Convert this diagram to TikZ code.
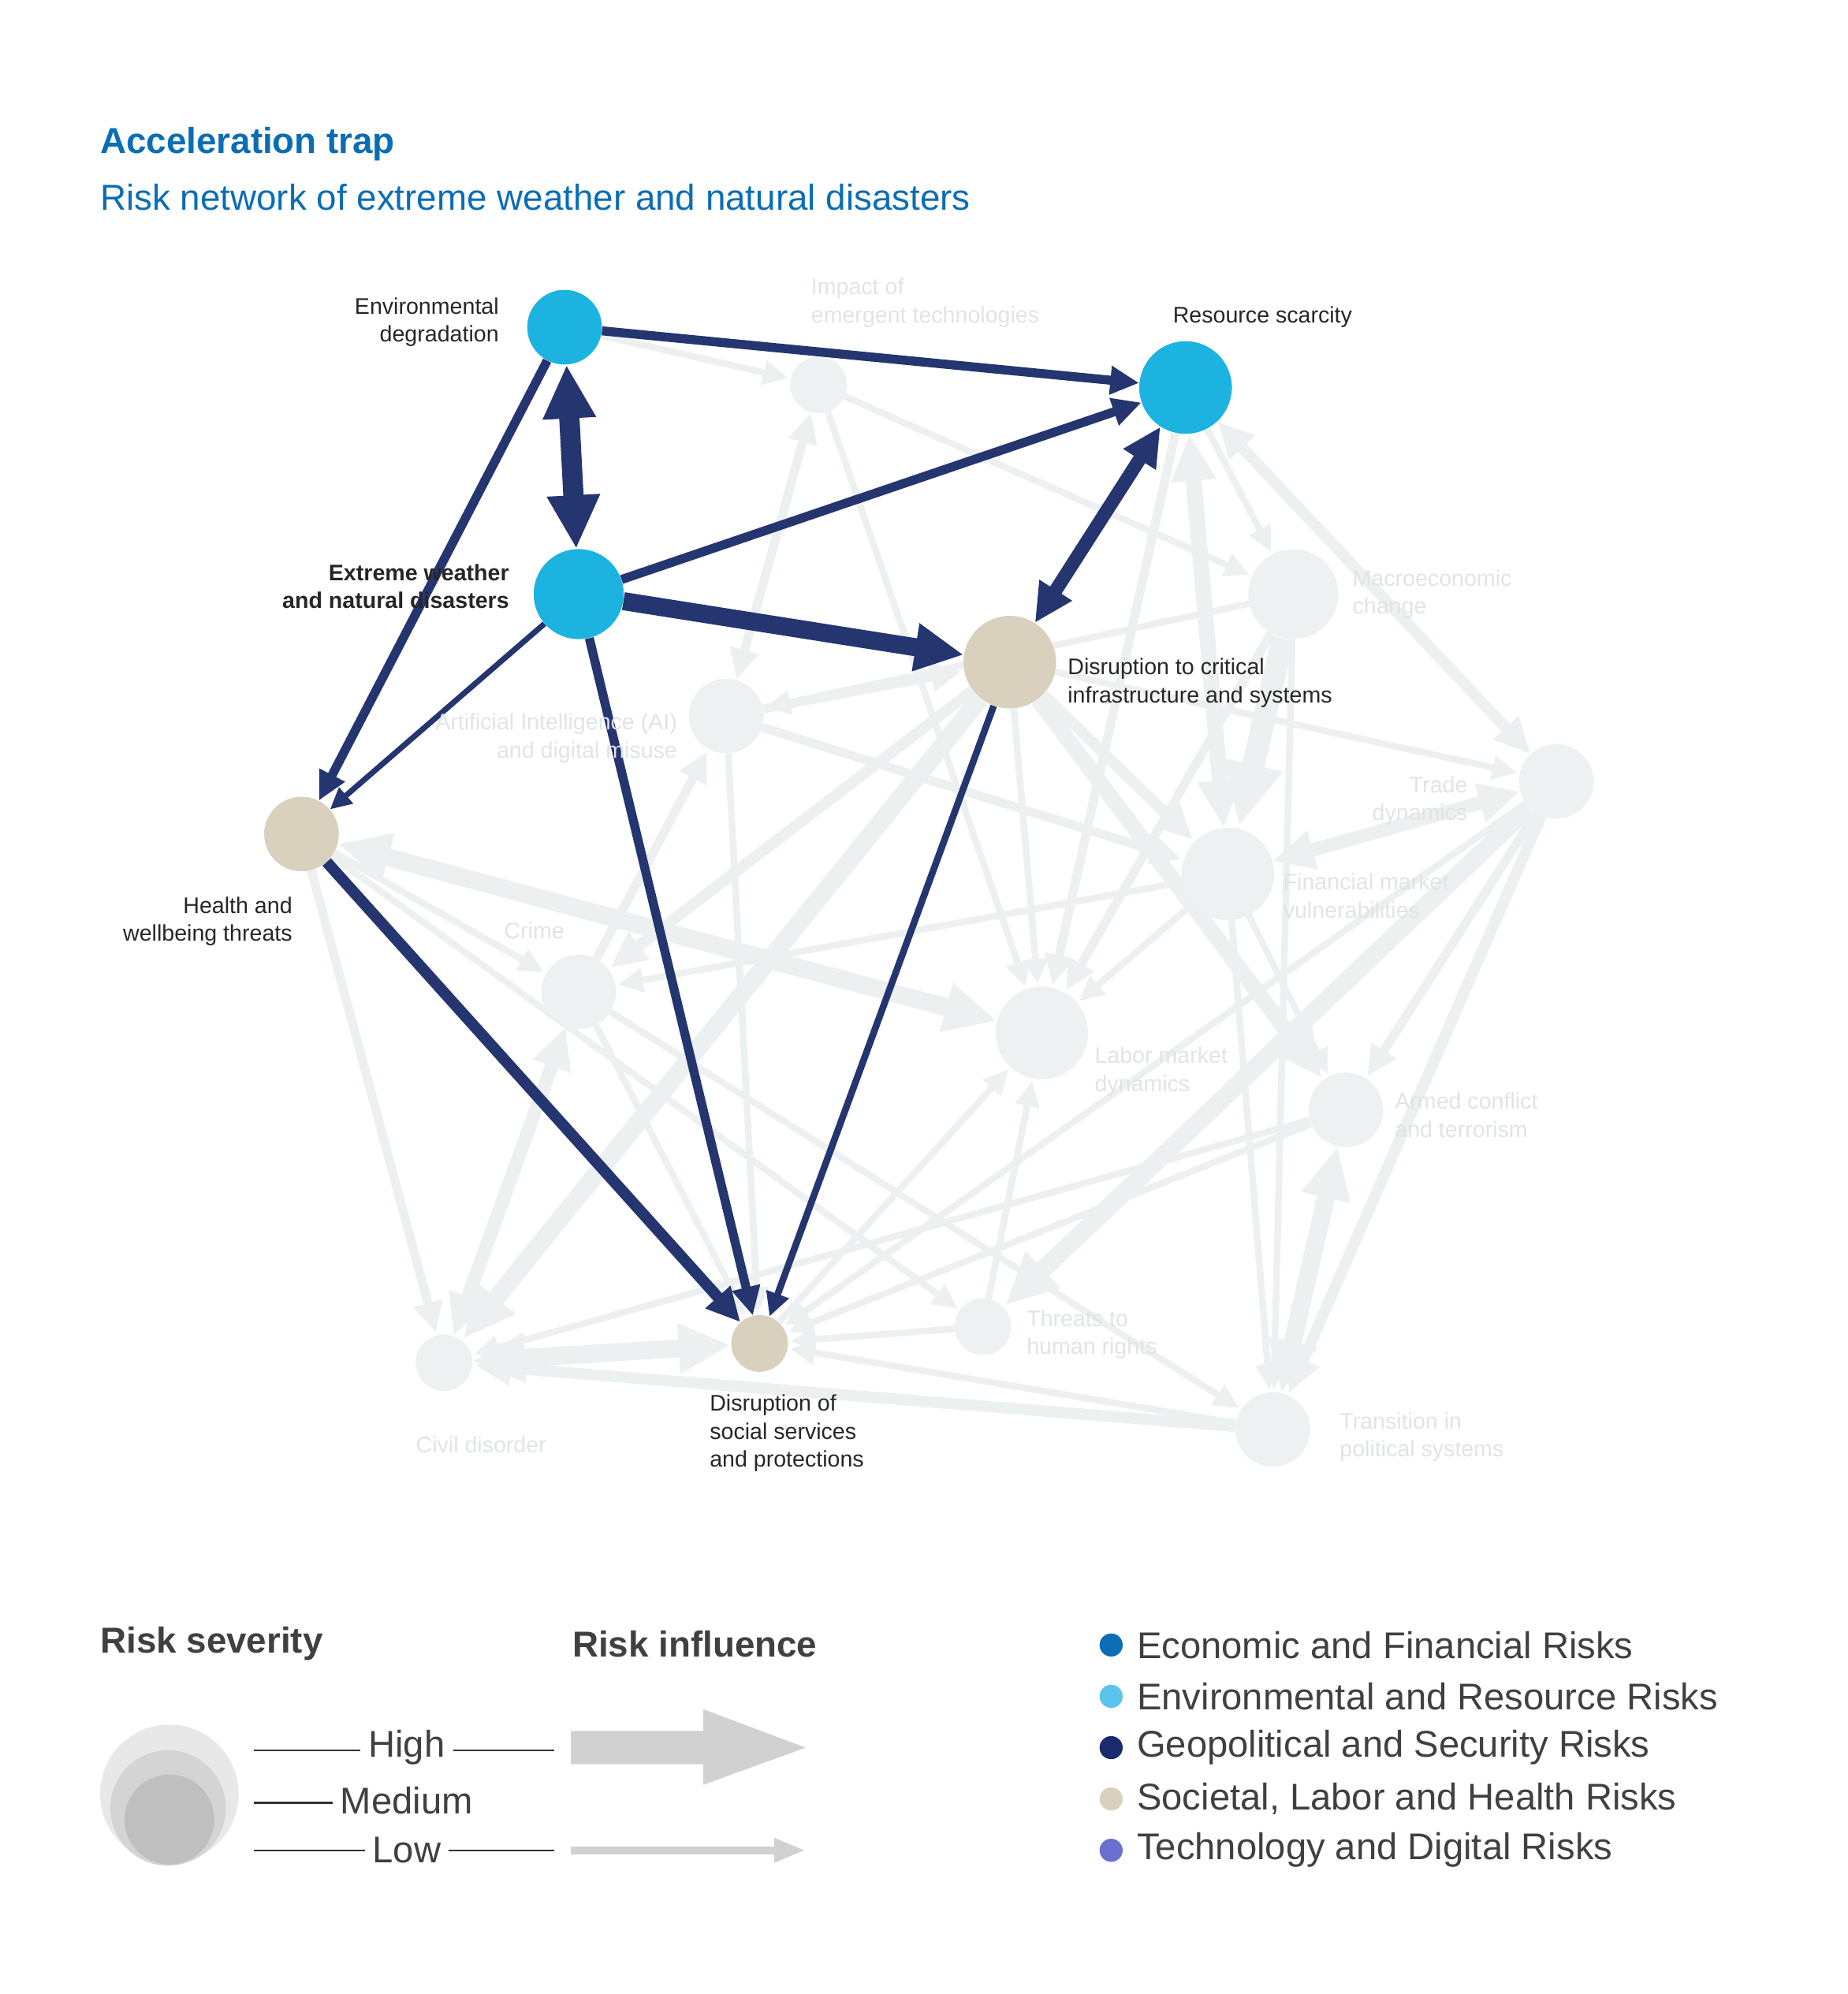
\documentclass[tikz,border=0pt]{standalone}
\usepackage{fontspec}
\setmainfont{Liberation Sans}
\usetikzlibrary{arrows.meta}
\definecolor{cyanR}{HTML}{1CB3E0}
\definecolor{beigeR}{HTML}{D9D1BD}
\definecolor{grayN}{HTML}{EEF1F2}
\definecolor{grayE}{HTML}{EDF0F1}
\definecolor{darkE}{HTML}{253570}
\definecolor{titleC}{HTML}{0A6DB5}
\definecolor{faint}{HTML}{E0E4E6}
\definecolor{lg1}{HTML}{0A6DB5}
\definecolor{lg2}{HTML}{5BC4EC}
\definecolor{lg3}{HTML}{1A2A6C}
\definecolor{lg4}{HTML}{D9D1BD}
\definecolor{lg5}{HTML}{6B6FCF}
\begin{document}
\begin{tikzpicture}[x=0.02cm,y=-0.02cm,
 rn/.style={circle,inner sep=0pt,minimum size=#1*0.04cm},
 ge/.style={draw=grayE,line width=#1,-{Triangle[length=2.4*#1+4pt,width=2.1*#1+4pt]},shorten >=1pt},
 gd/.style={draw=grayE,line width=#1,{Triangle[length=2.4*#1+4pt,width=2.1*#1+4pt]}-{Triangle[length=2.4*#1+4pt,width=2.1*#1+4pt]}},
 de/.style={draw=darkE,line width=#1,-{Triangle[length=2.2*#1+4pt,width=2*#1+4pt]}},
 dd/.style={draw=darkE,line width=#1,{Triangle[length=2.2*#1+4pt,width=2*#1+4pt]}-{Triangle[length=2.2*#1+4pt,width=2*#1+4pt]}},
 lab/.style={font=\fontsize{10}{12.5}\selectfont,text=faint,align=left},
 labd/.style={font=\fontsize{10}{12.5}\selectfont,text=black!85,align=left},
 leg/.style={font=\fontsize{16.5}{18}\selectfont,text=black!75}]
\useasboundingbox (0,0) rectangle (1440,1554);
% nodes
\node[rn=29,fill=cyanR] (env) at (440,255) {};
\node[rn=22,fill=grayN] (imp) at (638,300) {};
\node[rn=36,fill=cyanR] (res) at (924,302) {};
\node[rn=35,fill=cyanR] (ext) at (451,463) {};
\node[rn=35,fill=grayN] (mac) at (1008,463) {};
\node[rn=36,fill=beigeR] (cri) at (787,516) {};
\node[rn=29,fill=grayN] (ai) at (566,558) {};
\node[rn=29,fill=grayN] (tra) at (1213,609) {};
\node[rn=29,fill=beigeR] (hea) at (235,650) {};
\node[rn=36,fill=grayN] (fin) at (957,681) {};
\node[rn=29,fill=grayN] (cr) at (451,773) {};
\node[rn=36,fill=grayN] (lab) at (812,805) {};
\node[rn=29,fill=grayN] (arm) at (1049,865) {};
\node[rn=22,fill=grayN] (thr) at (766,1034) {};
\node[rn=22,fill=beigeR] (soc) at (592,1047) {};
\node[rn=22,fill=grayN] (civ) at (346,1062) {};
\node[rn=29,fill=grayN] (tps) at (992,1114) {};
% gray edges
\draw[ge=3pt] (env) -- (imp);
\draw[ge=3pt] (imp) -- (mac);
\draw[ge=3pt] (imp) -- (lab);
\draw[gd=4pt] (ai) -- (imp);
\draw[ge=4pt] (ai) -- (cri);
\draw[ge=4pt] (ai) -- (fin);
\draw[ge=3pt] (ai) -- (soc);
\draw[ge=4pt] (cr) -- (ai);
\draw[ge=5pt] (cri) -- (cr);
\draw[ge=8pt] (cri) -- (civ);
\draw[ge=5pt] (cri) -- (fin);
\draw[ge=7pt] (cri) -- (arm);
\draw[ge=3pt] (cri) -- (lab);
\draw[ge=3pt] (res) -- (mac);
\draw[gd=7pt] (res) -- (fin);
\draw[ge=4pt] (res) -- (lab);
\draw[gd=5pt] (res) -- (tra);
\draw[ge=10pt] (mac) -- (fin);
\draw[ge=4pt] (mac) -- (lab);
\draw[ge=3pt] (mac) -- (tps);
\draw[ge=3pt] (mac) -- (ai);
\draw[gd=6pt] (tra) -- (fin);
\draw[ge=4pt] (tra) -- (arm);
\draw[ge=5pt] (tra) -- (tps);
\draw[ge=8pt] (tra) -- (thr);
\draw[ge=3pt] (tra) -- (soc);
\draw[ge=3pt] (cri) -- (tra);
\draw[gd=8pt] (hea) -- (lab);
\draw[ge=3pt] (hea) -- (cr);
\draw[ge=4pt] (hea) -- (civ);
\draw[ge=3pt] (hea) -- (thr);
\draw[gd=6pt] (cr) -- (civ);
\draw[ge=3pt] (cr) -- (tps);
\draw[ge=3pt] (cr) -- (soc);
\draw[ge=3pt] (thr) -- (lab);
\draw[ge=3pt] (soc) -- (lab);
\draw[gd=8pt] (civ) -- (soc);
\draw[ge=5pt] (tps) -- (civ);
\draw[ge=3pt] (tps) -- (soc);
\draw[gd=8pt] (arm) -- (tps);
\draw[ge=3pt] (arm) -- (civ);
\draw[ge=3pt] (arm) -- (soc);
\draw[ge=3pt] (fin) -- (lab);
\draw[ge=3pt] (fin) -- (tps);
\draw[ge=3pt] (fin) -- (arm);
\draw[ge=3pt] (thr) -- (soc);
\draw[ge=3pt] (fin) -- (cr);
% redraw gray nodes over edges
\foreach \n/\r in {imp/22,mac/35,ai/29,tra/29,fin/36,cr/29,lab/36,arm/29,thr/22,civ/22,tps/29}
  \fill[grayN] (\n) circle (\r);
% dark edges
\draw[de=4pt] (env) -- (res);
\draw[dd=9pt] (env) -- (ext);
\draw[de=4pt] (env) -- (hea);
\draw[de=4pt] (ext) -- (res);
\draw[de=8pt] (ext) -- (cri);
\draw[de=2.5pt] (ext) -- (hea);
\draw[de=4pt] (ext) -- (soc);
\draw[dd=6pt] (cri) -- (res);
\draw[de=3pt] (cri) -- (soc);
\draw[de=5pt] (hea) -- (soc);
\foreach \n/\r/\c in {env/29/cyanR,res/36/cyanR,ext/35/cyanR,cri/36/beigeR,hea/29/beigeR,soc/22/beigeR}
  \fill[\c] (\n) circle (\r);
% title
\node[anchor=west,font=\fontsize{16}{18}\selectfont\bfseries,text=titleC] (t1) at (72,112) {Acceleration trap};
\node[anchor=west,font=\fontsize{16}{18}\selectfont,text=titleC] (t2) at (72,154) {Risk network of extreme weather and natural disasters};
% labels
\node[labd,anchor=east,align=right] at (395,251) {Environmental\\degradation};
\node[lab,anchor=west] at (626,236) {Impact of\\emergent technologies};
\node[labd,anchor=west] at (908,247) {Resource scarcity};
\node[labd,anchor=east,align=right,font=\fontsize{10}{12.5}\selectfont\bfseries] at (403,457) {Extreme weather\\and natural disasters};
\node[lab,anchor=west] at (1048,463) {Macroeconomic\\change};
\node[labd,anchor=west] at (826,532) {Disruption to critical\\infrastructure and systems};
\node[lab,anchor=east,align=right] at (534,575) {Artificial Intelligence (AI)\\and digital misuse};
\node[lab,anchor=east,align=right] at (1150,624) {Trade\\dynamics};
\node[labd,anchor=east,align=right] at (234,718) {Health and\\wellbeing threats};
\node[lab,anchor=west] at (994,698) {Financial market\\vulnerabilities};
\node[lab,anchor=east] at (446,725) {Crime};
\node[lab,anchor=west] at (847,835) {Labor market\\dynamics};
\node[lab,anchor=west] at (1081,869) {Armed conflict\\and terrorism};
\node[lab,anchor=west] at (794,1040) {Threats to\\human rights};
\node[labd,anchor=west] at (547,1117) {Disruption of\\social services\\and protections};
\node[lab,anchor=west] at (318,1126) {Civil disorder};
\node[lab,anchor=west] at (1038,1120) {Transition in\\political systems};
% legend
\node[leg,anchor=west,font=\fontsize{16}{18}\selectfont\bfseries] at (72,1281) {Risk severity};
\node[leg,anchor=west,font=\fontsize{16}{18}\selectfont\bfseries] at (440,1281) {Risk influence};
\fill[black!9] (132,1398) circle (54);
\fill[black!17] (131,1409) circle (45);
\fill[black!25] (132,1418) circle (35);
\node[leg] (hi) at (317,1362) {High};
\node[leg] (me) at (317,1403) {Medium};
\node[leg] (lo) at (317,1442) {Low};
\draw[black!80,line width=0.8pt] (198,1364) -- (hi.west |- 0,1364) (hi.east |- 0,1364) -- (432,1364);
\draw[black!80,line width=0.8pt] (198,1405) -- (me.west |- 0,1405);
\draw[black!80,line width=0.8pt] (198,1442) -- (lo.west |- 0,1442) (lo.east |- 0,1442) -- (432,1442);
\fill[black!18] (445,1349) -- (548,1349) -- (548,1332) -- (628,1362) -- (548,1391) -- (548,1375) -- (445,1375) -- cycle;
\draw[black!18,line width=3.5pt,-{Triangle[length=14pt,width=10pt]}] (445,1442) -- (628,1442);
\foreach \y/\c/\t in {1282/lg1/Economic and Financial Risks,1322/lg2/Environmental and Resource Risks,1362/lg3/Geopolitical and Security Risks,1402/lg4/{Societal, Labor and Health Risks},1442/lg5/Technology and Digital Risks}{
  \fill[\c] (866,\y) circle (9);
  \node[leg,anchor=west] at (880,\y) {\t};
}
\end{tikzpicture}
\end{document}
